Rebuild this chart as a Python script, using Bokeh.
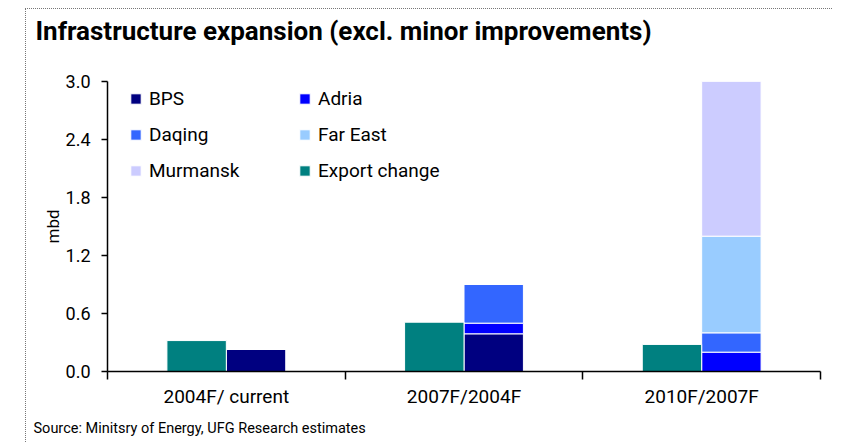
from bokeh.plotting import figure
from bokeh.models import Legend, LegendItem, FixedTicker, Range1d, NumeralTickFormatter, ColumnDataSource, Title
from bokeh.embed import file_html
from bokeh.resources import INLINE

categories = ["2004F/ current", "2007F/2004F", "2010F/2007F"]
bps = [0.23, 0.39, 0.0]
adria = [0.0, 0.11, 0.20]
daqing = [0.0, 0.40, 0.20]
far_east = [0.0, 0.0, 1.00]
murmansk = [0.0, 0.0, 1.60]
export_change = [0.32, 0.51, 0.28]
y_ticks = [0.0, 0.6, 1.2, 1.8, 2.4, 3.0]

FONT = "Roboto"
colors = {"BPS": "#000080", "Adria": "#0000FF", "Daqing": "#3366FF",
          "Far East": "#99CCFF", "Murmansk": "#CCCCFF", "Export change": "#008080"}

centers = [i + 0.5 for i in range(len(categories))]
bar_w = 0.25
src = ColumnDataSource(dict(
    xs=[c + bar_w / 2 for c in centers],
    xe=[c - bar_w / 2 for c in centers],
    BPS=bps, Adria=adria, Daqing=daqing, FarEast=far_east, Murmansk=murmansk,
    Export=export_change,
))

p = figure(width=807, height=434, output_backend="svg", toolbar_location=None, title=None,
           x_range=Range1d(0, len(categories)), y_range=Range1d(0, 3.0),
           min_border_left=81, min_border_right=13, min_border_top=72, min_border_bottom=70)
p.margin = (8, 0, 0, 25)
p.styles = {"border-top": "1px dotted #777", "border-left": "1px dotted #777"}
p.outline_line_color = None
p.xgrid.visible = False
p.ygrid.visible = False

stackers = ["BPS", "Adria", "Daqing", "FarEast", "Murmansk"]
stack_cols = [colors["BPS"], colors["Adria"], colors["Daqing"], colors["Far East"], colors["Murmansk"]]
rs = p.vbar_stack(stackers, x="xs", width=bar_w, source=src, fill_color=stack_cols,
                  line_color="white", line_width=1)
re = p.vbar(x="xe", top="Export", width=bar_w, source=src, fill_color=colors["Export change"],
            line_color="white", line_width=1)

# axes
yax = p.yaxis[0]
yax.ticker = FixedTicker(ticks=y_ticks)
yax.formatter = NumeralTickFormatter(format="0.0")
yax.major_tick_out = 6
yax.major_tick_in = 0
yax.minor_tick_line_color = None
yax.axis_line_width = 1.5
yax.major_tick_line_width = 1.5
yax.major_label_text_font = FONT
yax.major_label_text_font_size = "18px"
yax.major_label_text_color = "black"
yax.major_label_standoff = 11
yax.axis_label = "mbd"
yax.axis_label_text_font = FONT
yax.axis_label_text_font_size = "17px"
yax.axis_label_text_font_style = "normal"
yax.axis_label_text_color = "black"
yax.axis_label_standoff = 0

xax = p.xaxis[0]
xax.ticker = FixedTicker(ticks=centers, minor_ticks=list(range(len(categories) + 1)))
xax.major_label_overrides = {c: cat for c, cat in zip(centers, categories)}
xax.major_tick_line_color = None
xax.major_tick_out = 0
xax.major_tick_in = 0
xax.minor_tick_out = 8
xax.minor_tick_in = 0
xax.minor_tick_line_color = "black"
xax.minor_tick_line_width = 1.5
xax.axis_line_width = 1.5
xax.major_label_text_font = FONT
xax.major_label_text_font_size = "19px"
xax.major_label_text_color = "black"
xax.major_label_standoff = 5

# legends
def make_legend(items, loc):
    lg = Legend(items=items, location=loc, orientation="vertical",
                label_text_font=FONT, label_text_font_size="19px", label_text_color="black",
                glyph_height=13, glyph_width=13, label_height=22, spacing=13,
                padding=0, margin=0, label_standoff=7,
                border_line_color=None, background_fill_alpha=0)
    p.add_layout(lg, "center")

make_legend([LegendItem(label="BPS", renderers=[rs[0]]),
             LegendItem(label="Daqing", renderers=[rs[2]]),
             LegendItem(label="Murmansk", renderers=[rs[4]])], (22, 189))
make_legend([LegendItem(label="Adria", renderers=[rs[1]]),
             LegendItem(label="Far East", renderers=[rs[3]]),
             LegendItem(label="Export change", renderers=[re])], (191, 189))

# spacer between frame and title, then the title itself (stacked outward)
p.add_layout(Title(text=" ", text_font_size="2px", standoff=32), "above")
p.add_layout(Title(text="Infrastructure expansion (excl. minor improvements)", align="left",
                   offset=-72, standoff=0, text_font=FONT, text_font_size="26px",
                   text_font_style="bold", text_color="black"), "above")

p.add_layout(Title(text="Source: Minitsry of Energy, UFG Research estimates", align="left",
                   offset=-74, standoff=14, text_font=FONT, text_font_size="14.5px",
                   text_font_style="normal", text_color="black"), "below")

open("out.html", "w").write(file_html(p, INLINE))
